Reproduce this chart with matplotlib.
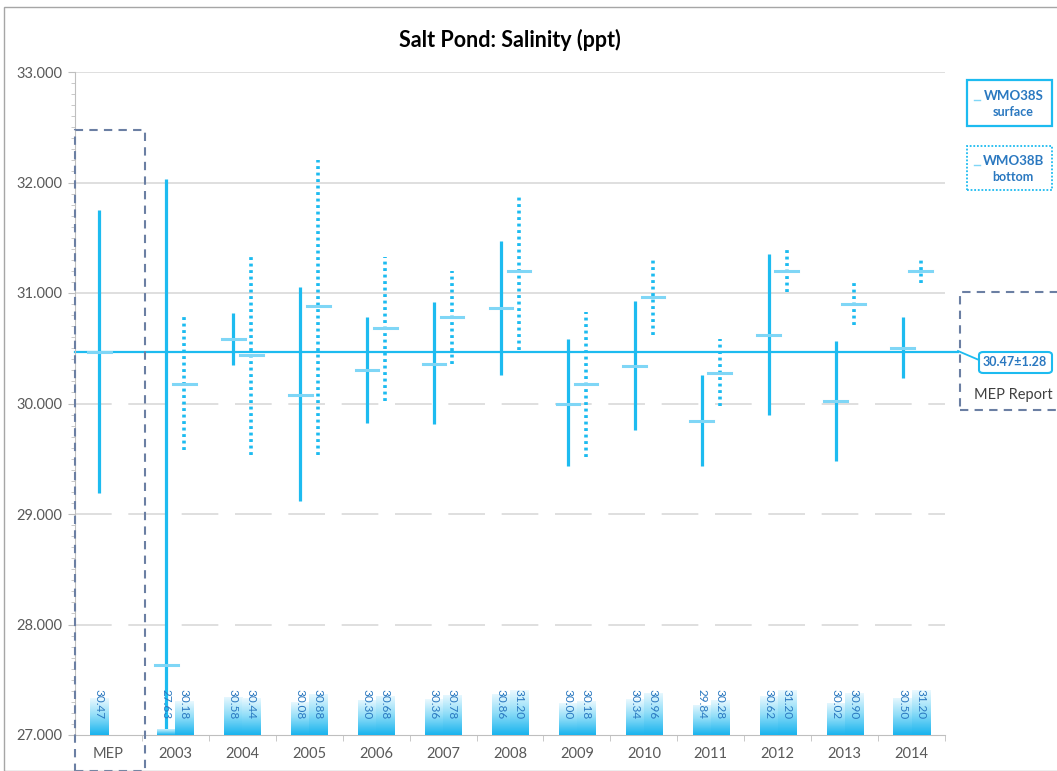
import matplotlib
matplotlib.use('Agg')
import matplotlib.pyplot as plt
import numpy as np
from matplotlib.colors import LinearSegmentedColormap
from matplotlib.patches import Rectangle, FancyBboxPatch
from matplotlib.ticker import MultipleLocator, FormatStrFormatter

plt.rcParams['font.family'] = ['Lato', 'DejaVu Sans']

categories = ['MEP', '2003', '2004', '2005', '2006', '2007', '2008',
              '2009', '2010', '2011', '2012', '2013', '2014']

# surface station WMO38S (MEP report value sits in the first slot)
surf_mean = [30.47, 27.63, 30.58, 30.08, 30.30, 30.36, 30.86,
             30.00, 30.34, 29.84, 30.62, 30.02, 30.50]
surf_max = [31.75, 32.03, 30.82, 31.05, 30.78, 30.92, 31.47,
            30.58, 30.93, 30.26, 31.35, 30.57, 30.78]
surf_min = [29.19, 26.90, 30.35, 29.12, 29.82, 29.81, 30.26,
            29.43, 29.76, 29.43, 29.90, 29.48, 30.23]

# bottom station WMO38B (no MEP value)
bot_mean = [None, 30.18, 30.44, 30.88, 30.68, 30.78, 31.20,
            30.18, 30.96, 30.28, 31.20, 30.90, 31.20]
bot_max = [None, 30.78, 31.33, 32.20, 31.33, 31.20, 31.90,
           30.83, 31.30, 30.58, 31.40, 31.10, 31.32]
bot_min = [None, 29.58, 29.53, 29.53, 30.02, 30.36, 30.48,
           29.52, 30.62, 29.98, 31.01, 30.71, 31.09]

mep_value = 30.47
mep_sd = 1.28

CYAN = '#1DBBF0'
LIGHT = '#7FD6F6'
BLUE_TXT = '#2A78C0'
GREY = '#595959'

W, H = 1057, 771
fig = plt.figure(figsize=(W / 100, H / 100), dpi=100)
ax = fig.add_axes([75 / W, 1 - 735 / H, 870 / W, 663 / H])


def fx(px):
    return px / W


def fy(py):
    return 1 - py / H


x = np.arange(len(categories))
off = 0.135

# grid lines
for g in [31, 32, 33]:
    ax.axhline(g, color='#D9D9D9', lw=1.2, zorder=0)
for g in [28, 29, 30]:
    ax.axhline(g, color='#D9D9D9', lw=1.2, ls=(0, (22, 10)), zorder=0)

# MEP reference line, runs out past the plot
ax.plot([-0.5, 12.7], [mep_value, mep_value], color=CYAN, lw=1.6,
        clip_on=False, zorder=2)

# range lines and means
for i in range(len(categories)):
    xs = x[i] - off
    ax.plot([xs, xs], [surf_min[i], surf_max[i]], color=CYAN, lw=2.3,
            solid_capstyle='butt', zorder=3)
    ax.plot([xs - 0.17, xs + 0.17], [surf_mean[i], surf_mean[i]],
            color=LIGHT, lw=2.2, zorder=4)
    if bot_mean[i] is not None:
        xb = x[i] + off
        ax.plot([xb, xb], [bot_min[i], bot_max[i]], color=CYAN, lw=2.6,
                ls=(0, (0.8, 1.0)), zorder=3)
        ax.plot([xb - 0.17, xb + 0.17], [bot_mean[i], bot_mean[i]],
                color=LIGHT, lw=2.2, zorder=4)

ax.set_xlim(-0.5, 12.5)
ax.set_ylim(27, 33)
ax.yaxis.set_major_locator(MultipleLocator(1))
ax.yaxis.set_minor_locator(MultipleLocator(0.1))
ax.yaxis.set_major_formatter(FormatStrFormatter('%.3f'))
ax.set_xticks(x)
ax.set_xticklabels(categories)
ax.set_xticks(np.arange(-0.5, 13, 1), minor=True)
ax.tick_params(axis='x', which='major', length=0, pad=9, labelsize=10.5,
               labelcolor=GREY)
ax.tick_params(axis='x', which='minor', length=4, color='#BFBFBF')
ax.tick_params(axis='y', which='major', length=5, color='#BFBFBF',
               labelsize=10.5, labelcolor=GREY, pad=4)
ax.tick_params(axis='y', which='minor', length=3, color='#BFBFBF')
for s in ['top', 'right']:
    ax.spines[s].set_visible(False)
ax.spines['left'].set_color('#BFBFBF')
ax.spines['bottom'].set_color('#BFBFBF')

# small mean columns on a secondary scale
ax2 = ax.twinx()
ax2.set_ylim(27.08, 87.9)
ax2.set_xlim(-0.5, 12.5)
ax2.axis('off')
cmap = LinearSegmentedColormap.from_list('bar', ['#1AB4EE', '#8FDDF8', '#F2FBFF'])
grad = np.linspace(0, 1, 64).reshape(-1, 1)
bw = 0.27


def gradient_bar(xc, val):
    r = Rectangle((xc - bw / 2, 0), bw, val, facecolor='none',
                  edgecolor='none')
    ax2.add_patch(r)
    im = ax2.imshow(grad, cmap=cmap, aspect='auto', origin='lower',
                    extent=[xc - bw / 2, xc + bw / 2, 27.08, val + 0.15],
                    zorder=1)
    im.set_clip_path(r)
    ax2.text(xc, 29.9, '%.2f' % val, rotation=270, ha='center', va='center',
             fontsize=8.5, color=BLUE_TXT, zorder=5)


for i in range(len(categories)):
    gradient_bar(x[i] - off, surf_mean[i])
    if bot_mean[i] is not None:
        gradient_bar(x[i] + off, bot_mean[i])
ax2.set_ylim(27.08, 87.9)
ax2.set_xlim(-0.5, 12.5)

# title
fig.text(fx(510), fy(40), 'Salt Pond: Salinity (ppt)', ha='center',
         va='center', fontsize=15.5, fontweight='bold', color='#000000')

# dashed box around the MEP column
dash = '#6B7FA3'
fig.patches.append(Rectangle((fx(75), fy(771)), fx(70), 641 / H,
                             fill=False, ec=dash, lw=1.5, ls=(0, (4, 3)),
                             transform=fig.transFigure, figure=fig))
# MEP Report box
fig.patches.append(Rectangle((fx(960), fy(410)), fx(110), 118 / H,
                             fill=False, ec=dash, lw=1.5, ls=(0, (4, 3)),
                             transform=fig.transFigure, figure=fig))
fig.text(fx(1013), fy(395), 'MEP Report', ha='center', va='center',
         fontsize=10.5, color='#404040')

# callout with MEP value
fig.lines.append(plt.Line2D([fx(958), fx(979)], [fy(351), fy(360)],
                            color=CYAN, lw=1.3, transform=fig.transFigure))
fig.patches.append(FancyBboxPatch((fx(979), fy(373)), fx(73), 21 / H,
                                  boxstyle='round,pad=0,rounding_size=0.004',
                                  fill=True, fc='white', ec=CYAN, lw=1.5,
                                  transform=fig.transFigure, figure=fig))
fig.text(fx(1015), fy(362), '%.2f±%.2f' % (mep_value, mep_sd), ha='center',
         va='center', fontsize=9, fontweight='bold', color=BLUE_TXT)

# legend boxes
fig.patches.append(Rectangle((fx(967), fy(126)), fx(85), 46 / H,
                             fill=False, ec=CYAN, lw=1.6,
                             transform=fig.transFigure, figure=fig))
fig.text(fx(1014), fy(96), 'WMO38S', ha='center', va='center',
         fontsize=9.5, fontweight='bold', color=BLUE_TXT)
fig.text(fx(1013), fy(112), 'surface', ha='center', va='center',
         fontsize=9, fontweight='bold', color=BLUE_TXT)
fig.patches.append(Rectangle((fx(967), fy(190)), fx(85), 44 / H,
                             fill=False, ec=CYAN, lw=1.3, ls=(0, (1, 1)),
                             transform=fig.transFigure, figure=fig))
fig.text(fx(1014), fy(161), 'WMO38B', ha='center', va='center',
         fontsize=9.5, fontweight='bold', color=BLUE_TXT)
fig.text(fx(1013), fy(177), 'bottom', ha='center', va='center',
         fontsize=9, fontweight='bold', color=BLUE_TXT)
for yy in [100, 165]:
    fig.lines.append(plt.Line2D([fx(974), fx(980)], [fy(yy), fy(yy)],
                                color=LIGHT, lw=1, transform=fig.transFigure))

# outer frame
fig.patches.append(Rectangle((fx(4), 0), fx(1060), fy(7), fill=False,
                             ec='#A6A6A6', lw=1,
                             transform=fig.transFigure, figure=fig))

fig.savefig('out.png', dpi=100)
